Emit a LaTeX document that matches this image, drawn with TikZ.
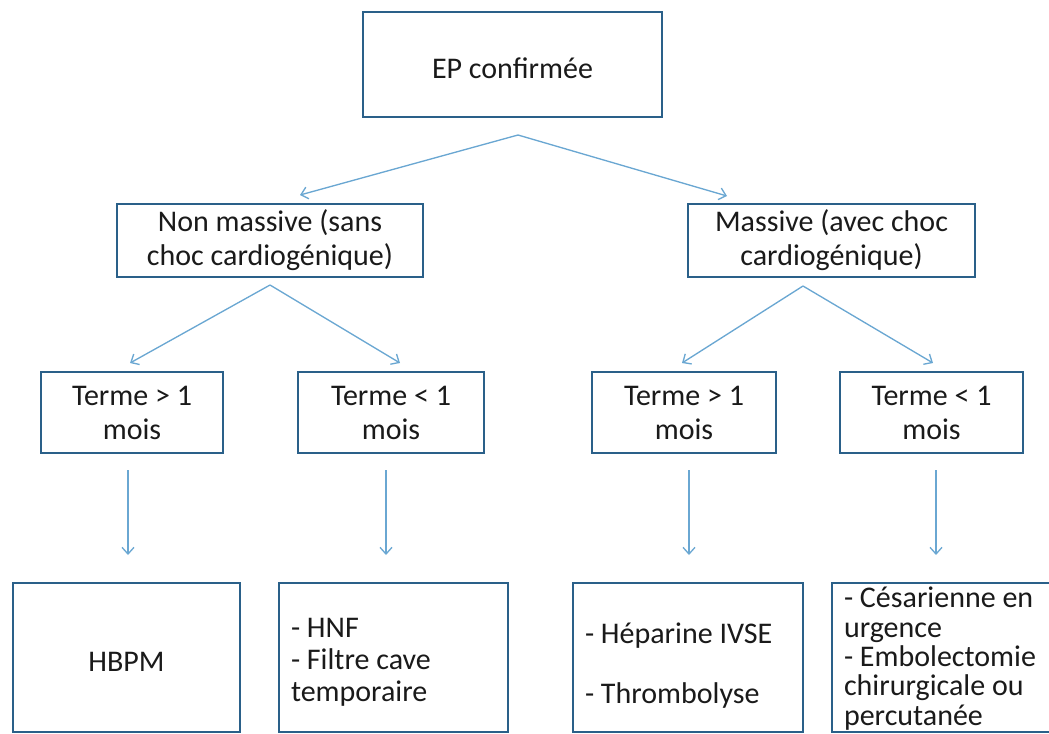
\documentclass[tikz,border=0pt]{standalone}
\usepackage{fontspec}
\setmainfont{Carlito}
\usetikzlibrary{arrows.meta}
\definecolor{boxblue}{HTML}{2A6089}
\definecolor{arrblue}{HTML}{6AA7D2}
\definecolor{txt}{HTML}{1A1A1A}
\newcommand{\lift}[1]{\rule{0pt}{#1}}
\tikzset{
  box/.style={draw=boxblue, line width=2pt, fill=white, inner sep=0pt, text=txt,
    font=\fontsize{22.5pt}{25.5pt}\selectfont, align=center},
  listbox/.style={draw=boxblue, line width=2pt, fill=white, inner xsep=9pt, inner ysep=0pt, text=txt,
    font=\fontsize{22.5pt}{22.5pt}\selectfont, align=flush left},
  conn/.style={draw=arrblue, line width=1pt, -{Straight Barb[length=5pt,width=9pt]}}
}
\begin{document}
\begin{tikzpicture}[x=0.75pt,y=-0.75pt]
\useasboundingbox (0,0) rectangle (1049,733);
% level 1
\node[box, minimum width=299*0.75pt, minimum height=105*0.75pt] (top) at (512.5,64.5) {\lift{21.5pt}EP confirmée};
% level 2
\node[box, minimum width=306*0.75pt, minimum height=73*0.75pt] (nm) at (270,240.5) {Non massive (sans\\choc cardiogénique)};
\node[box, minimum width=287*0.75pt, minimum height=73*0.75pt] (m) at (831.5,240.5) {Massive (avec choc\\cardiogénique)};
% level 3
\node[box, minimum width=182*0.75pt, minimum height=81*0.75pt] (t1) at (132,412.5) {Terme > 1\\mois};
\node[box, minimum width=186*0.75pt, minimum height=81*0.75pt] (t2) at (391,412.5) {Terme < 1\\mois};
\node[box, minimum width=184*0.75pt, minimum height=81*0.75pt] (t3) at (684,412.5) {Terme > 1\\mois};
\node[box, minimum width=183*0.75pt, minimum height=81*0.75pt] (t4) at (931.5,412.5) {Terme < 1\\mois};
% level 4
\node[box, minimum width=227*0.75pt, minimum height=149*0.75pt] (b1) at (126.5,657.5) {\lift{20.5pt}HBPM};
\node[listbox, text width=229*0.75pt-18pt, minimum height=149*0.75pt,
      font=\fontsize{22.5pt}{24pt}\selectfont] (b2) at (393.5,657.5) {\lift{22pt}- HNF\\- Filtre cave\\temporaire};
\node[listbox, text width=230*0.75pt-18pt, minimum height=149*0.75pt] (b3) at (688,657.5) {\lift{27pt}- Héparine IVSE\\[22.5pt]- Thrombolyse};
\node[listbox, text width=228*0.75pt-18pt, minimum height=149*0.75pt,
      font=\fontsize{22.5pt}{22pt}\selectfont] (b4) at (946,657.5) {\lift{17pt}- Césarienne en\\urgence\\- Embolectomie\\chirurgicale ou\\percutanée};
% connector points
\coordinate (a0) at (518,135);
\coordinate (e1) at (300,195);
\coordinate (e2) at (727,196);
\coordinate (a1) at (270,285);
\coordinate (e3) at (130,363);
\coordinate (e4) at (400,363);
\coordinate (a2) at (803,286);
\coordinate (e5) at (682,363);
\coordinate (e6) at (933,363);
\coordinate (v1s) at (128,470); \coordinate (v1e) at (128,555);
\coordinate (v2s) at (386,470); \coordinate (v2e) at (386,555);
\coordinate (v3s) at (689,470); \coordinate (v3e) at (689,555);
\coordinate (v4s) at (936,470); \coordinate (v4e) at (936,555);
\draw[conn] (a0) -- (e1);
\draw[conn] (a0) -- (e2);
\draw[conn] (a1) -- (e3);
\draw[conn] (a1) -- (e4);
\draw[conn] (a2) -- (e5);
\draw[conn] (a2) -- (e6);
\draw[conn] (v1s) -- (v1e);
\draw[conn] (v2s) -- (v2e);
\draw[conn] (v3s) -- (v3e);
\draw[conn] (v4s) -- (v4e);
\end{tikzpicture}
\end{document}
